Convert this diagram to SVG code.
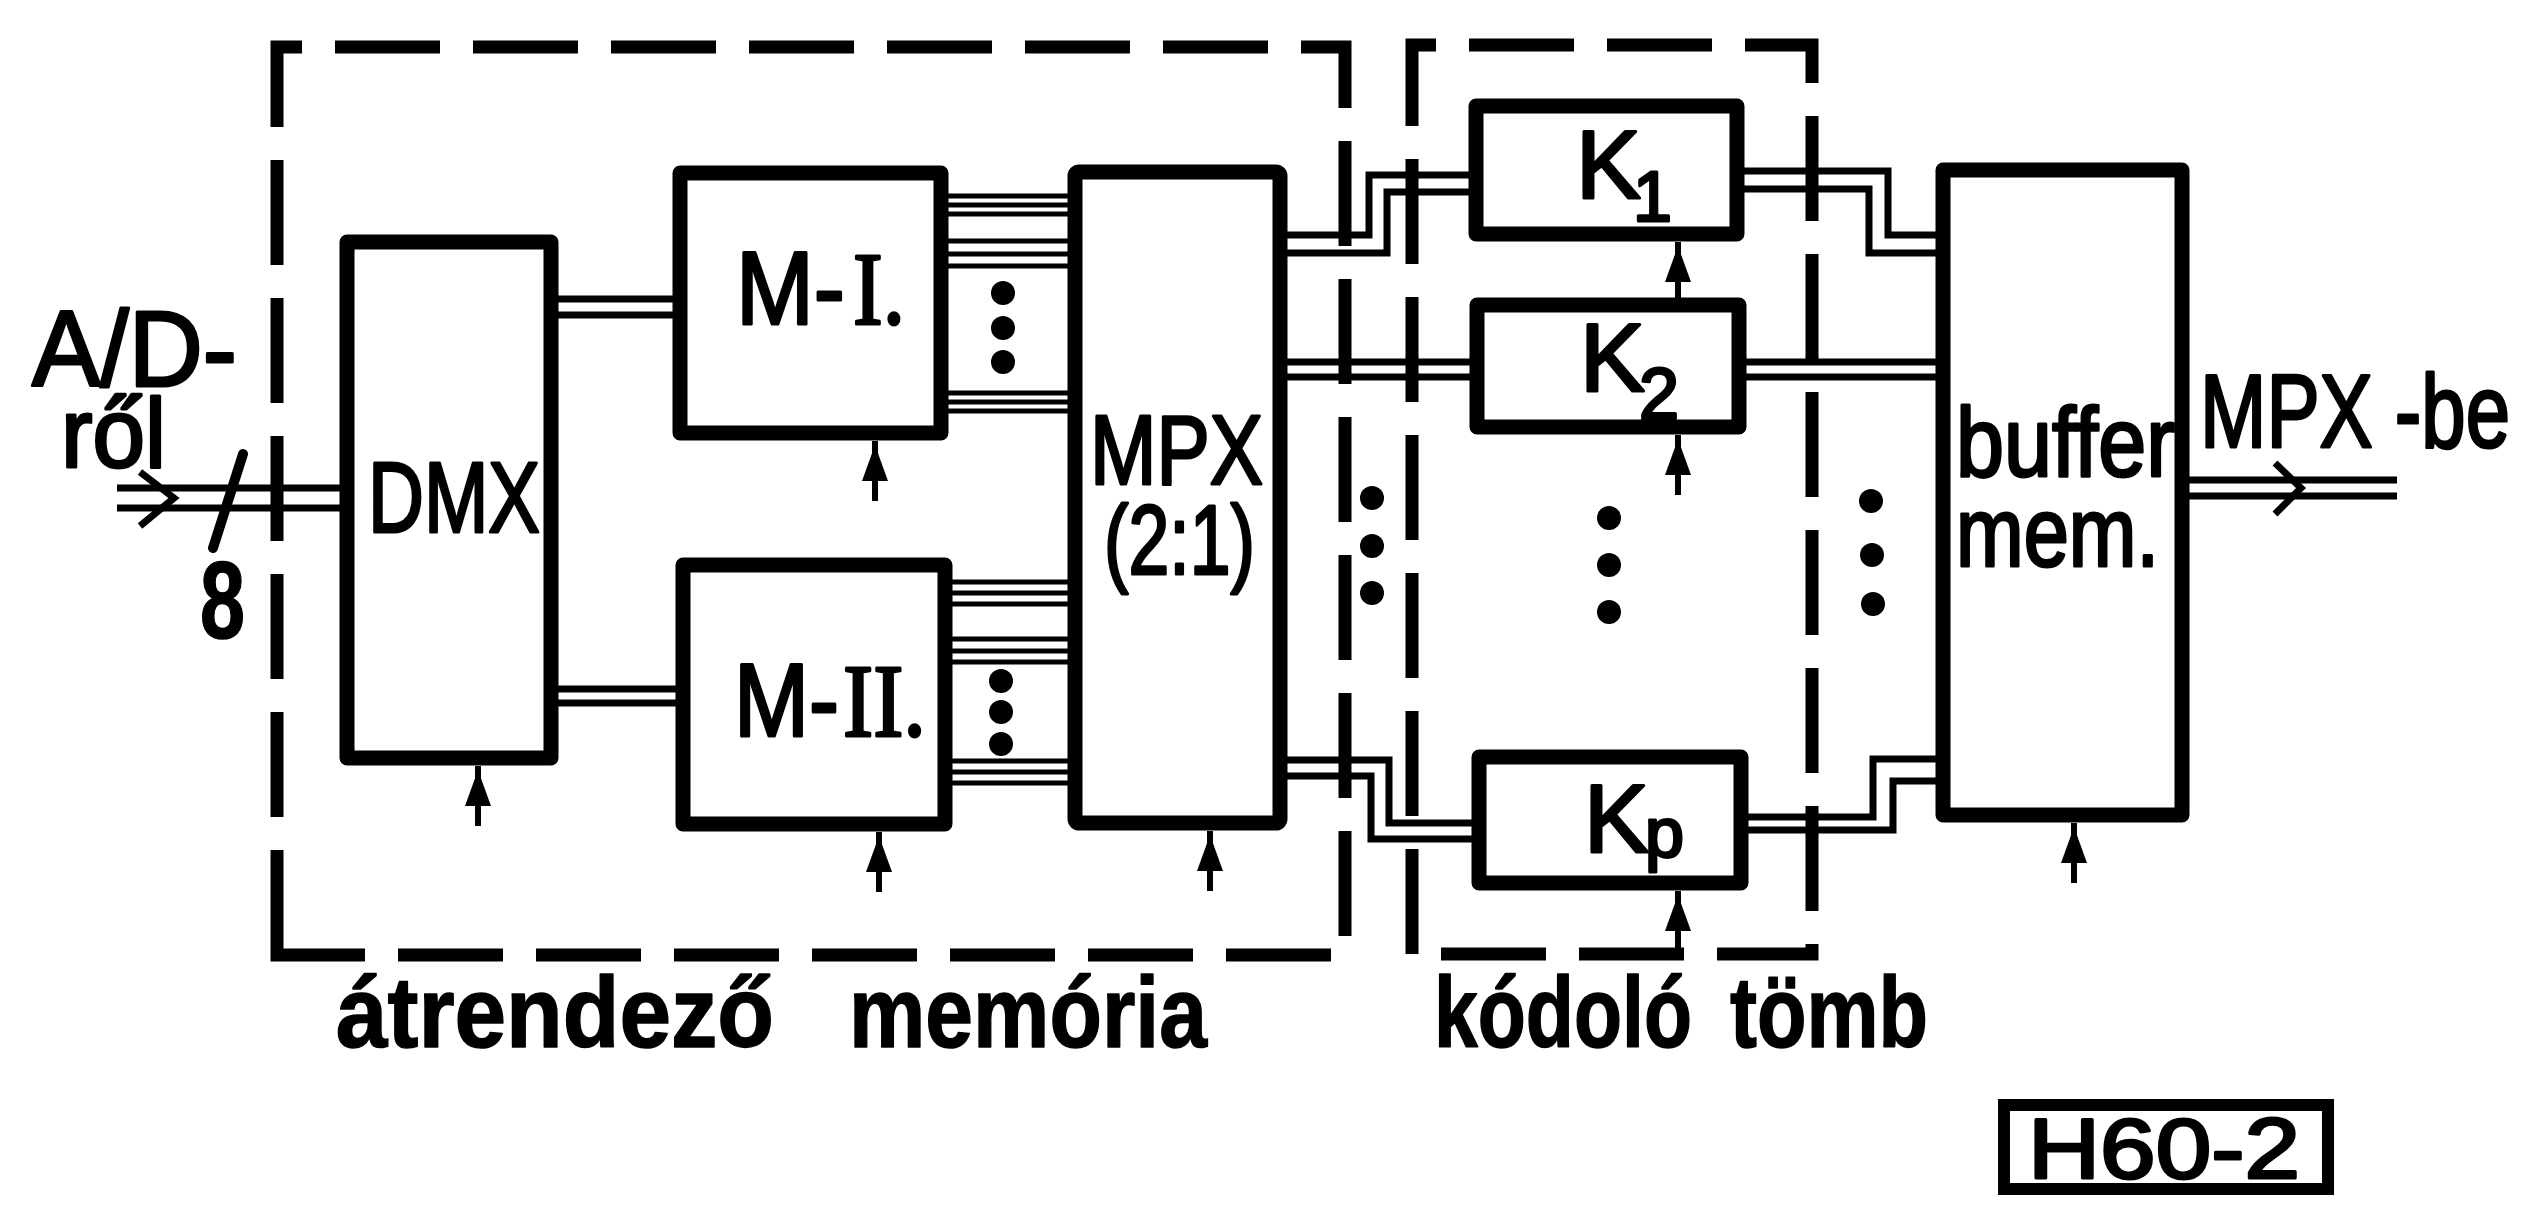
<svg xmlns="http://www.w3.org/2000/svg" xmlns:xlink="http://www.w3.org/1999/xlink" width="2530" height="1217" viewBox="0 0 2530 1217">
<style>
.box{fill:none;stroke:#000;stroke-width:15;stroke-linejoin:round}
.bus{fill:none;stroke:#000;stroke-width:7;stroke-linejoin:miter}
.bus3{fill:none;stroke:#000;stroke-width:5}
.frame{fill:none;stroke:#000;stroke-width:13;stroke-dasharray:105 33}
.t{font-family:"Liberation Sans",Arial,sans-serif;fill:#000;stroke:#000;stroke-width:3;stroke-linejoin:round}
.s{font-family:"Liberation Serif","Times New Roman",serif}
.b{font-weight:bold;stroke-width:1.5}
.dot{fill:#000}
</style>
<defs>
<g id="ctl"><line x1="0" y1="0" x2="0" y2="60" stroke="#000" stroke-width="6"/><polygon points="0,4 -13,40 13,40" fill="#000"/></g>
</defs>
<rect width="2530" height="1217" fill="#fff"/>

<g id="frame-atrendezo">
<path class="frame" d="M277,955 L277,47 L1345,47 L1345,955 Z"/>
<text class="t b" x="336" y="1047" font-size="100" textLength="438" lengthAdjust="spacingAndGlyphs">átrendező</text>
<text class="t b" x="849" y="1047" font-size="100" textLength="358" lengthAdjust="spacingAndGlyphs">memória</text>
</g>

<g id="frame-kodolo">
<path class="frame" d="M1412,954 L1412,45 L1812,45 L1812,954 Z"/>
<text class="t b" x="1434" y="1047" font-size="100" textLength="258" lengthAdjust="spacingAndGlyphs">kódoló</text>
<text class="t b" x="1730" y="1047" font-size="100" textLength="198" lengthAdjust="spacingAndGlyphs">tömb</text>
</g>

<g id="input">
<text class="t" x="32" y="386" font-size="108" textLength="205" lengthAdjust="spacingAndGlyphs">A/D-</text>
<text class="t" x="61" y="467" font-size="98" textLength="105" lengthAdjust="spacingAndGlyphs">ről</text>
<text class="t b" x="200" y="638" font-size="110" textLength="45" lengthAdjust="spacingAndGlyphs">8</text>
</g>

<g id="dmx">
<rect class="box" x="347" y="242" width="204" height="516"/>
<text class="t" x="368" y="532" font-size="101" textLength="172" lengthAdjust="spacingAndGlyphs">DMX</text>
</g>

<g id="m1">
<rect class="box" x="680" y="173" width="261" height="260"/>
<text class="t" x="736" y="324" font-size="104" textLength="109" lengthAdjust="spacingAndGlyphs">M-</text>
<text class="t s" x="853" y="324" font-size="104" textLength="52" lengthAdjust="spacingAndGlyphs">I.</text>
</g>

<g id="m2">
<rect class="box" x="683" y="565" width="262" height="259"/>
<text class="t" x="734" y="736" font-size="104" textLength="105" lengthAdjust="spacingAndGlyphs">M-</text>
<text class="t s" x="843" y="736" font-size="104" textLength="83" lengthAdjust="spacingAndGlyphs">II.</text>
</g>

<g id="mpx">
<rect class="box" x="1075" y="172" width="205" height="651" rx="4"/>
<text class="t" x="1090" y="484" font-size="98" textLength="173" lengthAdjust="spacingAndGlyphs">MPX</text>
<text class="t" x="1104" y="574" font-size="98" textLength="151" lengthAdjust="spacingAndGlyphs">(2:1)</text>
</g>

<g id="k1">
<rect class="box" x="1476" y="106" width="261" height="128"/>
<text class="t" x="1576" y="198" font-size="97">K</text>
<text class="t" x="1633" y="221" font-size="70">1</text>
</g>

<g id="k2">
<rect class="box" x="1477" y="305" width="262" height="122"/>
<text class="t" x="1580" y="391" font-size="97">K</text>
<text class="t" x="1639" y="419" font-size="72">2</text>
</g>

<g id="kp">
<rect class="box" x="1479" y="757" width="262" height="126"/>
<text class="t" x="1584" y="852" font-size="97">K</text>
<text class="t" x="1645" y="857" font-size="70">p</text>
</g>

<g id="buffer">
<rect class="box" x="1943" y="170" width="239" height="645"/>
<text class="t" x="1956" y="476" font-size="98" textLength="219" lengthAdjust="spacingAndGlyphs">buffer</text>
<text class="t" x="1956" y="566" font-size="98" textLength="203" lengthAdjust="spacingAndGlyphs">mem.</text>
</g>

<g id="output">
<text class="t" x="2200" y="447" font-size="104" textLength="310" lengthAdjust="spacingAndGlyphs">MPX -be</text>
</g>

<g id="tag">
<rect x="2004" y="1105" width="324" height="84" fill="none" stroke="#000" stroke-width="12"/>
<text class="t" x="2028" y="1178" font-size="86" textLength="272" lengthAdjust="spacingAndGlyphs">H60-2</text>
</g>

<g id="connectors">
<!-- input -->
<line class="bus" x1="117" y1="488" x2="340" y2="488"/>
<line class="bus" x1="117" y1="508" x2="340" y2="508"/>
<polyline class="bus" points="140,472 174,498 140,526"/>
<line x1="243" y1="454" x2="213" y2="548" stroke="#000" stroke-width="10" stroke-linecap="round"/>
<!-- DMX to memories -->
<line class="bus" x1="555" y1="299" x2="673" y2="299"/>
<line class="bus" x1="555" y1="315" x2="673" y2="315"/>
<line class="bus" x1="555" y1="689" x2="676" y2="689"/>
<line class="bus" x1="555" y1="703" x2="676" y2="703"/>
<!-- M-I to MPX -->
<g class="bus3">
<line x1="945" y1="196" x2="1070" y2="196"/><line x1="945" y1="205" x2="1070" y2="205"/><line x1="945" y1="214" x2="1070" y2="214"/>
<line x1="945" y1="241" x2="1070" y2="241"/><line x1="945" y1="254" x2="1070" y2="254"/><line x1="945" y1="266" x2="1070" y2="266"/>
<line x1="945" y1="393" x2="1070" y2="393"/><line x1="945" y1="402" x2="1070" y2="402"/><line x1="945" y1="411" x2="1070" y2="411"/>
<!-- M-II to MPX -->
<line x1="949" y1="582" x2="1070" y2="582"/><line x1="949" y1="593" x2="1070" y2="593"/><line x1="949" y1="604" x2="1070" y2="604"/>
<line x1="949" y1="639" x2="1070" y2="639"/><line x1="949" y1="651" x2="1070" y2="651"/><line x1="949" y1="662" x2="1070" y2="662"/>
<line x1="949" y1="761" x2="1070" y2="761"/><line x1="949" y1="772" x2="1070" y2="772"/><line x1="949" y1="783" x2="1070" y2="783"/>
</g>
<circle class="dot" cx="1003" cy="293" r="12"/><circle class="dot" cx="1003" cy="328" r="12"/><circle class="dot" cx="1003" cy="362" r="12"/>
<circle class="dot" cx="1001" cy="681" r="12"/><circle class="dot" cx="1001" cy="712" r="12"/><circle class="dot" cx="1001" cy="744" r="12"/>
<!-- MPX to coders -->
<polyline class="bus" points="1283,235 1369,235 1369,175 1470,175"/>
<polyline class="bus" points="1283,253 1387,253 1387,192 1470,192"/>
<line class="bus" x1="1283" y1="362" x2="1471" y2="362"/>
<line class="bus" x1="1283" y1="377" x2="1471" y2="377"/>
<polyline class="bus" points="1283,760 1389,760 1389,823 1473,823"/>
<polyline class="bus" points="1283,776 1371,776 1371,839 1473,839"/>
<circle class="dot" cx="1372" cy="498" r="12"/><circle class="dot" cx="1372" cy="546" r="12"/><circle class="dot" cx="1372" cy="593" r="12"/>
<circle class="dot" cx="1609" cy="518" r="12"/><circle class="dot" cx="1609" cy="565" r="12"/><circle class="dot" cx="1609" cy="612" r="12"/>
<!-- coders to buffer -->
<polyline class="bus" points="1743,171 1888,171 1888,235 1937,235"/>
<polyline class="bus" points="1743,189 1869,189 1869,253 1937,253"/>
<line class="bus" x1="1745" y1="362" x2="1937" y2="362"/>
<line class="bus" x1="1745" y1="377" x2="1937" y2="377"/>
<polyline class="bus" points="1747,817 1873,817 1873,759 1937,759"/>
<polyline class="bus" points="1747,830 1893,830 1893,781 1937,781"/>
<circle class="dot" cx="1871" cy="501" r="12"/><circle class="dot" cx="1872" cy="555" r="12"/><circle class="dot" cx="1873" cy="604" r="12"/>
<!-- output -->
<line class="bus" x1="2188" y1="480" x2="2397" y2="480"/>
<line class="bus" x1="2188" y1="496" x2="2397" y2="496"/>
<polyline class="bus" points="2275,463 2301,488 2275,514"/>
<!-- control inputs -->
<use xlink:href="#ctl" x="478" y="766"/>
<use xlink:href="#ctl" x="875" y="441"/>
<use xlink:href="#ctl" x="879" y="832"/>
<use xlink:href="#ctl" x="1210" y="831"/>
<use xlink:href="#ctl" x="1678" y="242"/>
<use xlink:href="#ctl" x="1678" y="435"/>
<use xlink:href="#ctl" x="1678" y="891"/>
<use xlink:href="#ctl" x="2074" y="823"/>
</g>
</svg>
